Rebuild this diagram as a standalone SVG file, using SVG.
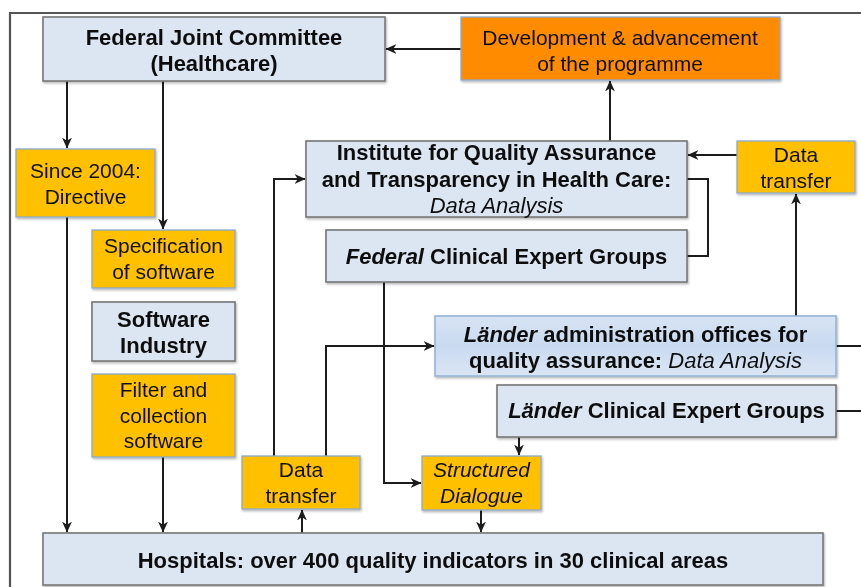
<svg xmlns="http://www.w3.org/2000/svg" width="861" height="587" viewBox="0 0 861 587">
<defs>
<style>
text{font-family:"Liberation Sans",Arial,sans-serif;fill:#111;text-anchor:middle}
.b{font-weight:bold;font-size:22px}
.r{font-size:21px}
.i{font-style:italic}
.n{font-weight:normal}
.blue{fill:#dce6f2;stroke:#767676;stroke-width:1.6}
.yel{fill:#ffc000;stroke:#8eaad0;stroke-width:1.3}
.org{fill:#ff8c00;stroke:#8eaad0;stroke-width:1.3}
.la{fill:url(#lag);stroke:#95b3d7;stroke-width:1.6}
.c{fill:none;stroke:#1c1c1c;stroke-width:2}
.a{marker-end:url(#ah)}
</style>
<linearGradient id="lag" x1="0" y1="0" x2="0" y2="1">
<stop offset="0" stop-color="#d8e4f3"/>
<stop offset="0.5" stop-color="#c9daf0"/>
<stop offset="1" stop-color="#dbe6f4"/>
</linearGradient>
<filter id="sh" x="-5%" y="-5%" width="110%" height="120%">
<feDropShadow dx="1" dy="1.5" stdDeviation="1" flood-color="#000" flood-opacity="0.3"/>
</filter>
<marker id="ah" markerUnits="userSpaceOnUse" markerWidth="11" markerHeight="11" viewBox="0 0 10 10" refX="9.5" refY="5" orient="auto">
<path d="M0,0.5 L10,5 L0,9.5 L3,5 z" fill="#1c1c1c"/>
</marker>
</defs>
<rect width="861" height="587" fill="#fff"/>
<path d="M10,600 V13 H870" fill="none" stroke="#555" stroke-width="2.2"/>

<g id="connectors">
<path class="c a" d="M461,49 H386"/>
<path class="c a" d="M610,141 V81"/>
<path class="c a" d="M67,81 V148"/>
<path class="c a" d="M163,81 V229"/>
<path class="c a" d="M67,217 V532"/>
<path class="c a" d="M163,457 V532"/>
<path class="c a" d="M302,533 V510"/>
<path class="c a" d="M274,456 V179 H305"/>
<path class="c a" d="M326,456 V346 H434"/>
<path class="c a" d="M384,282 V483 H421"/>
<path class="c a" d="M519,437 V455"/>
<path class="c a" d="M481,510 V532"/>
<path class="c a" d="M737,155 H688"/>
<path class="c a" d="M796,316 V194"/>
<path class="c" d="M687,179 H708 V256 H687"/>
<path class="c" d="M836,346 H861"/>
<path class="c" d="M836,411 H861"/>
</g>

<g id="fjc" filter="url(#sh)">
<rect class="blue" x="43" y="17" width="342" height="64"/>
<text class="b" x="214" y="45">Federal Joint Committee</text>
<text class="b" x="214" y="71">(Healthcare)</text>
</g>
<g id="dev" filter="url(#sh)">
<rect class="org" x="461" y="17" width="319" height="63"/>
<text class="r" x="620" y="45">Development &amp; advancement</text>
<text class="r" x="620" y="71">of the programme</text>
</g>
<g id="since2004" filter="url(#sh)">
<rect class="yel" x="16" y="149" width="139" height="68"/>
<text class="r" x="85.5" y="178">Since 2004:</text>
<text class="r" x="85.5" y="204">Directive</text>
</g>
<g id="spec" filter="url(#sh)">
<rect class="yel" x="92" y="230" width="143" height="58"/>
<text class="r" x="163.5" y="253">Specification</text>
<text class="r" x="163.5" y="279">of software</text>
</g>
<g id="swind" filter="url(#sh)">
<rect class="blue" x="92" y="302" width="143" height="59"/>
<text class="b" x="163.5" y="327">Software</text>
<text class="b" x="163.5" y="353">Industry</text>
</g>
<g id="filter" filter="url(#sh)">
<rect class="yel" x="92" y="374" width="143" height="83"/>
<text class="r" x="163.5" y="397">Filter and</text>
<text class="r" x="163.5" y="423">collection</text>
<text class="r" x="163.5" y="448">software</text>
</g>
<g id="institute" filter="url(#sh)">
<rect class="blue" x="306" y="141" width="381" height="76"/>
<text class="b" x="496.5" y="160">Institute for Quality Assurance</text>
<text class="b" x="496.5" y="187">and Transparency in Health Care:</text>
<text class="b i n" x="496.5" y="213">Data Analysis</text>
</g>
<g id="fceg" filter="url(#sh)">
<rect class="blue" x="326" y="230" width="361" height="52"/>
<text class="b" x="506.5" y="264"><tspan class="i">Federal</tspan> Clinical Expert Groups</text>
</g>
<g id="dt_right" filter="url(#sh)">
<rect class="yel" x="737" y="141" width="118" height="52"/>
<text class="r" x="796" y="162">Data</text>
<text class="r" x="796" y="188">transfer</text>
</g>
<g id="laender_admin" filter="url(#sh)">
<rect class="la" x="435" y="316" width="401" height="60"/>
<text class="b" x="635.5" y="342"><tspan class="i">Länder</tspan> administration offices for</text>
<text class="b" x="635.5" y="368">quality assurance: <tspan class="i n">Data Analysis</tspan></text>
</g>
<g id="laender_ceg" filter="url(#sh)">
<rect class="blue" x="497" y="385" width="339" height="52"/>
<text class="b" x="666.5" y="418"><tspan class="i">Länder</tspan> Clinical Expert Groups</text>
</g>
<g id="sd" filter="url(#sh)">
<rect class="yel" x="422" y="456" width="119" height="54"/>
<text class="r i" x="481.5" y="477">Structured</text>
<text class="r i" x="481.5" y="503">Dialogue</text>
</g>
<g id="dt_left" filter="url(#sh)">
<rect class="yel" x="242" y="456" width="118" height="53"/>
<text class="r" x="301" y="477">Data</text>
<text class="r" x="301" y="503">transfer</text>
</g>
<g id="hospitals" filter="url(#sh)">
<rect class="blue" x="43" y="533" width="780" height="52"/>
<text class="b" x="433" y="568">Hospitals: over 400 quality indicators in 30 clinical areas</text>
</g>
</svg>
